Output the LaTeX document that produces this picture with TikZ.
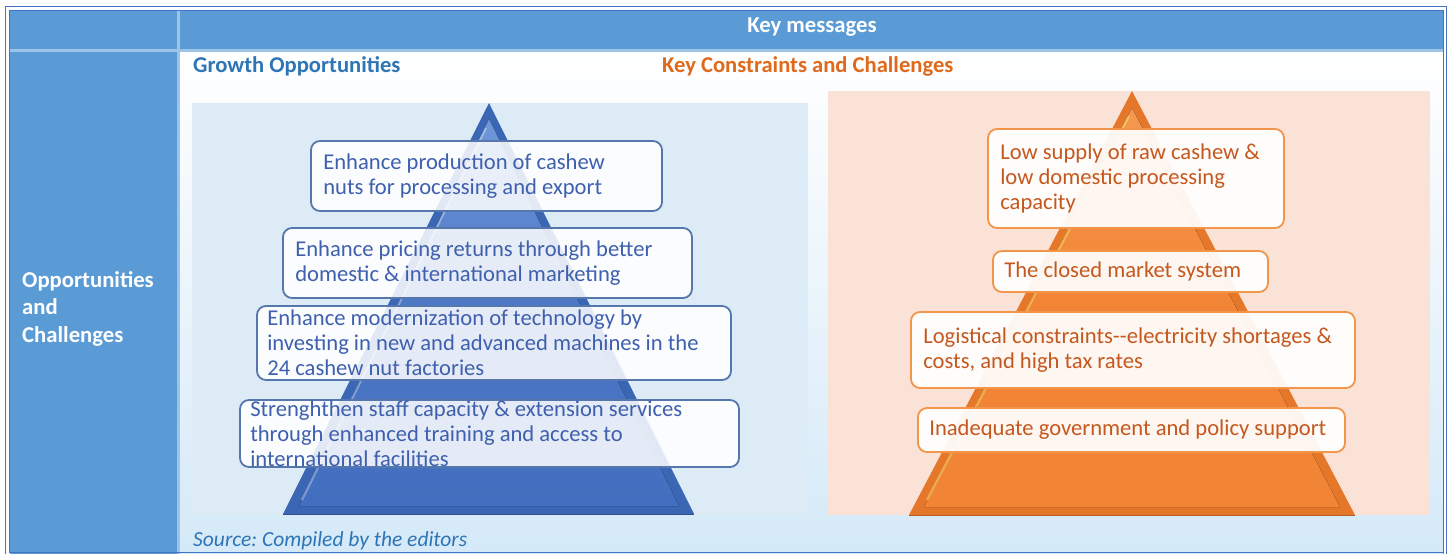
\documentclass[tikz,border=0pt]{standalone}
\usepackage{fontspec}
\setmainfont{Carlito}
\frenchspacing
\definecolor{hdrblue}{HTML}{5B9BD5}
\definecolor{sepblue}{HTML}{9DC3E6}
\definecolor{frameblue}{HTML}{4472C4}
\definecolor{gpanel}{HTML}{DDEBF7}
\definecolor{opanel}{HTML}{FAE3D6}
\definecolor{gtitle}{HTML}{2E75B6}
\definecolor{otitle}{HTML}{E0691C}
\definecolor{gtext}{HTML}{3F60AE}
\definecolor{otext}{HTML}{C5581E}
\definecolor{gline}{HTML}{5677AE}
\definecolor{oline}{HTML}{F2944A}
\definecolor{bottombg}{HTML}{D4E9F8}
\definecolor{gdark}{HTML}{3B66B4}
\definecolor{gmid}{HTML}{436FC0}
\definecolor{glight}{HTML}{6F97D9}
\definecolor{odark}{HTML}{E5772B}
\definecolor{omid}{HTML}{F28535}
\definecolor{olight}{HTML}{F49850}
\begin{document}
\begin{tikzpicture}[x=1pt,y=-1pt,
  hdr/.style={font=\fontsize{22.7}{27.5}\selectfont\bfseries, text=white, inner sep=0},
  ttl/.style={font=\fontsize{22.6}{25}\selectfont\bfseries, inner sep=0, anchor=west},
  gbox/.style={draw=gline, line width=1.8pt, rounded corners=9pt, fill=white, fill opacity=0.86, inner sep=0},
  obox/.style={draw=oline, line width=1.8pt, rounded corners=9pt, fill=white, fill opacity=0.93, inner sep=0},
  gtxt/.style={font=\fontsize{22.6}{25}\selectfont, text=gtext, align=left, inner sep=0, anchor=west},
  otxt/.style={font=\fontsize{22.6}{25}\selectfont, text=otext, align=left, inner sep=0, anchor=west}]
\useasboundingbox (0,0) rectangle (1452,554);
\clip (0,0) rectangle (1452,554);

% table cells
\fill[hdrblue] (9.5,10.5) rectangle (1443.5,48.5);
\fill[hdrblue] (9.5,48.5) rectangle (177,556);
\fill[top color=white, bottom color=bottombg] (180,52) rectangle (1443.5,556);
\draw[sepblue, line width=3pt] (178.5,10.5) -- (178.5,556);
\draw[sepblue, line width=3pt] (9.5,50) -- (1443.5,50);

% frame (double rule)
\draw[frameblue, line width=1.6pt] (5.5,6.5) rectangle (1446.5,560);
\draw[frameblue, line width=1.6pt] (9.5,10.5) rectangle (1443.5,552.5);

% headings
\node[hdr] (keymsg) at (812,27) {Key messages};
\node[hdr, align=left, anchor=west] (rowlabel) at (22,308.5) {Opportunities\\and\\Challenges};
\node[ttl, text=gtitle] (gtitle) at (193,66) {Growth Opportunities};
\node[ttl, text=otitle] (otitle) at (662,66) {Key Constraints and Challenges};

% panels
\fill[gpanel] (192,103) rectangle (808,515);
\fill[opanel] (828,91) rectangle (1430,515);

% blue pyramid
\fill[gdark] (489,103) -- (694,514) -- (283,514) -- cycle;
\fill[top color=glight, bottom color=gmid, middle color=gmid!80!glight]
  (489,119) -- (679,506) -- (299,506) -- cycle;
\draw[white, opacity=0.35, line width=2pt] (486,128) -- (302,500);
\draw[gdark!80!black, line width=1pt] (283,514) -- (694,514);

% orange pyramid
\fill[odark] (1132,91) -- (1355,515) -- (909,515) -- cycle;
\fill[top color=olight, bottom color=omid, middle color=omid]
  (1132,108) -- (1340,507) -- (924,507) -- cycle;
\draw[yellow!50!white, opacity=0.45, line width=2pt] (1129,116) -- (927,500);
\draw[odark!80!black, line width=1pt] (909,515) -- (1355,515);

% growth opportunities
\node[gbox, minimum width=351, minimum height=70] (g1) at (486.5,176) {};
\node[gbox, minimum width=409, minimum height=70] (g2) at (487.5,263) {};
\node[gbox, minimum width=474, minimum height=74] (g3) at (494,343) {};
\node[gbox, minimum width=499, minimum height=67] (g4) at (489.5,433.5) {};
\node[gtxt] (g1t) at ([xshift=13pt]g1.west) {Enhance production of cashew\\nuts for processing and export};
\node[gtxt] (g2t) at ([xshift=13pt]g2.west) {Enhance pricing returns through better\\domestic \& international marketing};
\node[gtxt] (g3t) at ([xshift=11pt]g3.west) {Enhance modernization of technology by\\investing in new and advanced machines in the\\24 cashew nut factories};
\node[gtxt] (g4t) at ([xshift=11pt]g4.west) {Strenghthen staff capacity \& extension services\\through enhanced training and access to\\international facilities};

% constraints and challenges
\node[obox, minimum width=296, minimum height=99] (c1) at (1136,178.5) {};
\node[obox, minimum width=275, minimum height=41] (c2) at (1130.5,271.5) {};
\node[obox, minimum width=444, minimum height=76] (c3) at (1133,350) {};
\node[obox, minimum width=427, minimum height=44] (c4) at (1131.5,430) {};
\node[otxt] (c1t) at ([xshift=13pt]c1.west) {Low supply of raw cashew \&\\low domestic processing\\capacity};
\node[otxt] (c2t) at ([xshift=12pt]c2.west) {The closed market system};
\node[otxt] (c3t) at ([xshift=13pt]c3.west) {Logistical constraints{-}{-}electricity shortages \&\\costs, and high tax rates};
\node[otxt] (c4t) at ([xshift=12pt]c4.west) {Inadequate government and policy support};

% source line
\node[gtxt, text=gtitle, font=\fontsize{21.5}{24}\selectfont\itshape] (src) at (193,541) {Source: Compiled by the editors};
\end{tikzpicture}
\end{document}
